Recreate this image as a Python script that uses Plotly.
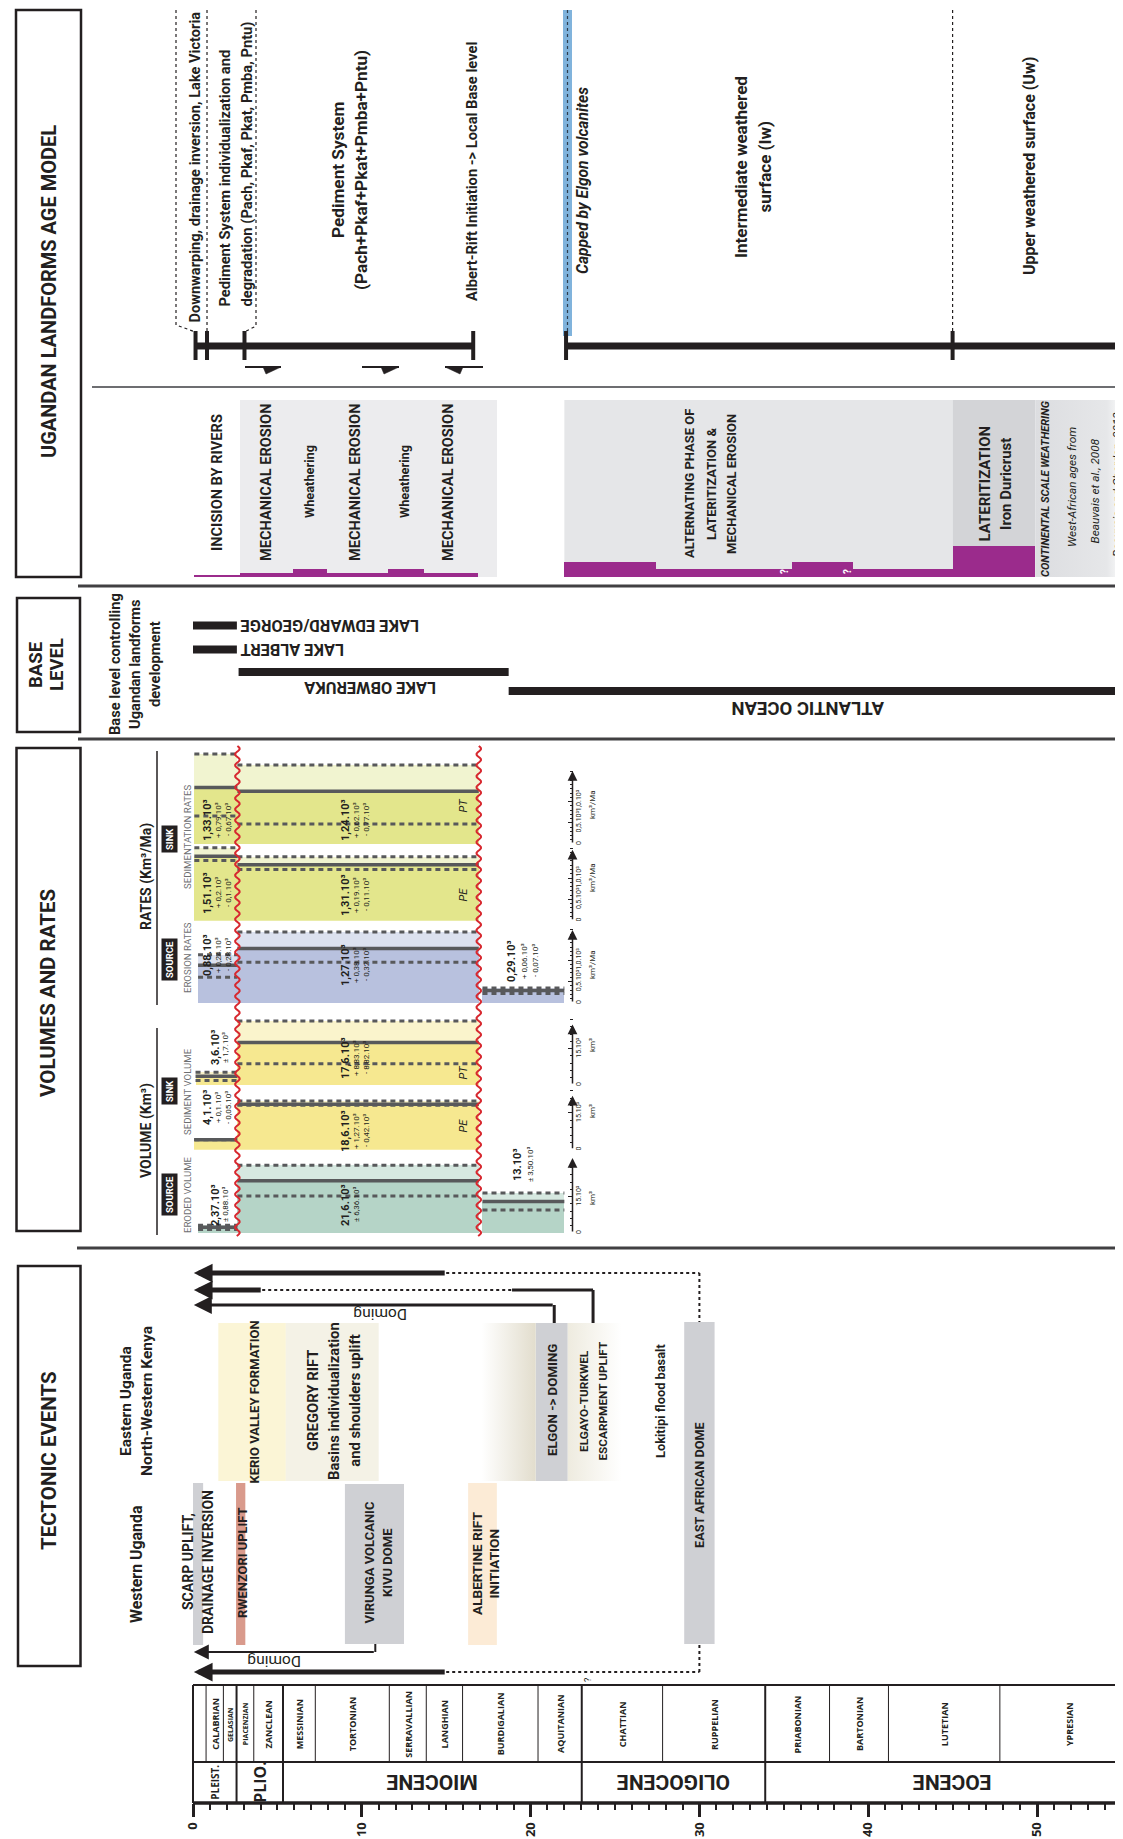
#!/usr/bin/env python3
import numpy as np
import plotly.graph_objects as go

W, H = 1123, 1839
X0, PXMA = 185.0, 16.88          # pixel column of 0 Ma, pixels per Ma
SCALE_PX = 564.5                 # column of the small value scales

COND = "Roboto, Liberation Sans, sans-serif"
WIDE = "Open Sans, DejaVu Sans, sans-serif"
INK = "#231f20"
GREY = "#cfd0d4"
PURPLE = "#9b2b8c"
RED = "#d7282f"
MEAN = "#58595b"

# ---------------- geological time scale (Ma) ----------------
stage_names = ["", "CALABRIAN", "GELASIAN", "PIACENZIAN", "ZANCLEAN", "MESSINIAN", "TORTONIAN",
               "SERRAVALLIAN", "LANGHIAN", "BURDIGALIAN", "AQUITANIAN", "CHATTIAN", "RUPPELIAN",
               "PRIABONIAN", "BARTONIAN", "LUTETIAN", "YPRESIAN"]
stage_bounds = [0, 0.774, 1.80, 2.58, 3.60, 5.333, 7.246, 11.63, 13.82, 15.97, 20.44, 23.03,
                27.82, 33.9, 37.71, 41.2, 47.8, 56.0]
epoch_names = ["PLEIST.", "PLIO.", "MIOCENE", "OLIGOCENE", "EOCENE"]
epoch_bounds = [0, 2.58, 5.333, 23.03, 33.9, 56.0]
age_ticks = [0, 10, 20, 30, 40, 50]

# ---------------- landforms age model ----------------
age_segments_start = [0.15, 22.1]
age_segments_end = [16.6, 55.6]
age_marks = [0.15, 0.83, 3.05, 16.6, 22.1, 45.0]

# ---------------- erosion / weathering processes ----------------
proc_start = [0.06, 2.78, 5.92, 7.94, 11.55, 13.7, 22.0, 27.4, 35.5, 39.1, 45.0]
proc_end = [2.78, 5.92, 7.94, 11.55, 13.7, 16.9, 27.4, 35.5, 39.1, 45.0, 49.9]
proc_level = [0.25, 0.5, 1, 0.5, 1, 0.5, 2, 1, 2, 1, 4]

# ---------------- base levels ----------------
lake_names = ["LAKE EDWARD/GEORGE", "LAKE ALBERT", "LAKE OBWERUKA", "ATLANTIC OCEAN"]
lake_start = [0.0, 0.0, 2.7, 18.7]
lake_end = [2.6, 2.6, 18.7, 55.3]

# ---------------- rates (10^3 km3/Ma) ----------------
rate_pt_start = [0.08, 2.63]
rate_pt_end = [2.63, 16.93]
rate_pt_mean = [1.33, 1.24]
rate_pt_plus = [0.79, 0.62]
rate_pt_minus = [0.67, 0.77]
rate_pt_text = [["1,33.10³", "+ 0,79.10³", "- 0,67.10³"], ["1,24.10³", "+ 0,62.10³", "- 0,77.10³"]]

rate_pe_start = [0.08, 2.63]
rate_pe_end = [2.63, 16.93]
rate_pe_mean = [1.51, 1.31]
rate_pe_plus = [0.2, 0.19]
rate_pe_minus = [0.1, 0.11]
rate_pe_text = [["1,51.10³", "+ 0,2.10³", "- 0,1.10³"], ["1,31.10³", "+ 0,19.10³", "- 0,11.10³"]]

rate_er_start = [0.3, 2.63, 17.15]
rate_er_end = [2.63, 16.93, 22.0]
rate_er_mean = [0.88, 1.27, 0.29]
rate_er_plus = [0.24, 0.38, 0.06]
rate_er_minus = [0.28, 0.32, 0.07]
rate_er_text = [["0,88.10³", "+ 0,24.10³", "- 0,28.10³"], ["1,27.10³", "+ 0,38.10³", "- 0,32.10³"],
                ["0,29.10³", "+ 0,06.10³", "- 0,07.10³"]]

# ---------------- volumes (10^3 km3) ----------------
vol_pt_start = [0.15, 2.63]
vol_pt_end = [2.63, 16.93]
vol_pt_mean = [3.6, 17.6]
vol_pt_plus = [1.7, 8.83]
vol_pt_minus = [1.7, 8.82]
vol_pt_text = [["3,6.10³", "± 1,7.10³"], ["17,6.10³", "+ 8,83.10³", "- 8,82.10³"]]

vol_pe_start = [0.08, 2.63]
vol_pe_end = [2.63, 16.93]
vol_pe_mean = [4.1, 18.6]
vol_pe_plus = [0.1, 1.27]
vol_pe_minus = [0.05, 0.42]
vol_pe_text = [["4,1.10³", "+ 0,1.10³", "- 0,05.10³"], ["18,6.10³", "+ 1,27.10³", "- 0,42.10³"]]

vol_er_start = [0.3, 2.63, 17.15]
vol_er_end = [2.63, 16.93, 22.0]
vol_er_mean = [2.37, 21.6, 13.0]
vol_er_plus = [0.88, 6.36, 3.5]
vol_er_minus = [0.88, 6.36, 3.5]
vol_er_text = [["2,37.10³", "± 0,88.10³"], ["21,6.10³", "± 6,36.10³"], ["13.10³", "± 3,50.10³"]]

rift_limits = [2.63, 16.93]

# ---------------- tectonic events (Ma) ----------------
tect_start = [1.5, 5.5, 20.3, 29.1, 0.0, 2.55, 9.0, 16.3]
tect_end = [5.5, 11.0, 22.2, 30.9, 0.6, 3.1, 12.5, 18.0]
tect_color = ["#fbf5d6", "#f4f2e6", GREY, GREY, GREY, "#d99a8c", GREY, "#fcebd6"]
tect_rows = [(1315, 1473), (1315, 1473), (1315, 1473), (1314, 1636),
             (1475, 1637), (1475, 1637), (1476, 1636), (1475, 1637)]
elgon_fade_left = [17.1, 20.3]
elgon_fade_right = [22.2, 25.4]


fig = go.Figure()


def ma(px):
    return (px - X0) / PXMA


def label(px, py, text, size=14, angle=-90, family=COND, bold=True, italic=False, color=INK, **kw):
    fig.add_annotation(x=ma(px), y=py, xref="x", yref="y", text=text, textangle=angle, showarrow=False,
                       font=dict(family=family, size=size, color=color,
                                 weight="bold" if bold else "normal",
                                 style="italic" if italic else "normal"), **kw)


def lines(pxs, py, texts, size, **kw):
    for px, t in zip(pxs, texts):
        label(px, py, t, size=size, **kw)


def line_ma(a0, y0, a1, y1, width=2, color=INK, dash=None, layer="above"):
    fig.add_shape(type="line", xref="x", yref="y", x0=a0, x1=a1, y0=y0, y1=y1, layer=layer,
                  line=dict(color=color, width=width, dash=dash))


def line_px(px0, y0, px1, y1, **kw):
    line_ma(ma(px0), y0, ma(px1), y1, **kw)


def rect_ma(a0, y0, a1, y1, fill, layer="below"):
    fig.add_shape(type="rect", xref="x", yref="y", x0=a0, x1=a1, y0=y0, y1=y1, layer=layer,
                  fillcolor=fill, line=dict(color=fill, width=0))


def box_px(px0, y0, px1, y1):
    fig.add_shape(type="rect", xref="x", yref="y", x0=ma(px0), x1=ma(px1), y0=y0, y1=y1,
                  line=dict(color=INK, width=2.5), fillcolor="rgba(0,0,0,0)")


def panel_axis(idx, zero_px, top_px, px_per_unit, ticks=None, ticktext=None, minor=None):
    ax = dict(domain=[1 - zero_px / H, 1 - top_px / H], range=[0, (zero_px - top_px) / px_per_unit],
              showgrid=False, zeroline=False, showline=False, fixedrange=True)
    if ticks is None:
        ax.update(visible=False, anchor="x")
    else:
        ax.update(anchor="free", position=SCALE_PX / W, side="right", ticks="inside", ticklen=5,
                  tickwidth=1, tickcolor=INK, tickvals=ticks, ticktext=ticktext, tickangle=-90,
                  tickfont=dict(family=COND, size=7, color=INK),
                  minor=dict(tickmode="array", tickvals=minor, ticks="inside", ticklen=3,
                             tickwidth=0.8, tickcolor=INK))
    fig.update_layout(**{f"yaxis{idx}": ax})


def scale_arrow(idx, top):
    fig.add_annotation(x=ma(SCALE_PX), y=top, ax=ma(SCALE_PX), ay=0, xref="x", yref=f"y{idx}",
                       axref="x", ayref=f"y{idx}", text="", showarrow=True, arrowhead=2,
                       arrowsize=1.3, arrowwidth=1.5, arrowcolor=INK)


def blocks(idx, starts, ends, means, plus, minus, dark, light):
    mids = [(a + b) / 2 for a, b in zip(starts, ends)]
    spans = [b - a for a, b in zip(starts, ends)]
    fig.add_trace(go.Bar(x=mids, y=means, width=spans, base=0, marker=dict(color=dark, line_width=0),
                         xaxis="x", yaxis=f"y{idx}", hoverinfo="skip"))
    fig.add_trace(go.Bar(x=mids, y=plus, width=spans, base=means, marker=dict(color=light, line_width=0),
                         xaxis="x", yaxis=f"y{idx}", hoverinfo="skip"))
    xs, ys, xm, ym = [], [], [], []
    for a, b, m, p, q in zip(starts, ends, means, plus, minus):
        xs += [a, b, None, a, b, None]
        ys += [m + p, m + p, None, m - q, m - q, None]
        xm += [a, b, None]
        ym += [m, m, None]
    fig.add_trace(go.Scatter(x=xs, y=ys, mode="lines", xaxis="x", yaxis=f"y{idx}", hoverinfo="skip",
                             line=dict(color=MEAN, width=3, dash="5px,4px")))
    fig.add_trace(go.Scatter(x=xm, y=ym, mode="lines", xaxis="x", yaxis=f"y{idx}", hoverinfo="skip",
                             line=dict(color=MEAN, width=3.5)))


def block_labels(texts, columns, rows):
    for lns, cols, py in zip(texts, columns, rows):
        for i, (t, px) in enumerate(zip(lns, cols)):
            label(px, py, t, size=11 if i == 0 else 8, bold=(i == 0))


# ============ UGANDAN LANDFORMS AGE MODEL ============
box_px(8, 2, 73, 569)
label(41, 284, "UGANDAN LANDFORMS AGE MODEL", size=20)

# dotted brackets and the Elgon cap
fig.add_shape(type="path", xref="x", yref="y",
              path=f"M {ma(168)},2 L {ma(168)},317 L {age_marks[0]},324",
              line=dict(color=INK, width=1.2, dash="dot"))
fig.add_shape(type="path", xref="x", yref="y",
              path=f"M {ma(248)},2 L {ma(248)},318 L {age_marks[2]},324",
              line=dict(color=INK, width=1.2, dash="dot"))
line_ma(age_marks[1], 2, age_marks[1], 323, width=1.2, dash="dot")
line_ma(age_marks[5], 2, age_marks[5], 323, width=1.2, dash="dot")
rect_ma(ma(555), 2, ma(564), 328, "#80b3dc", layer="above")
line_ma(ma(559.5), 2, ma(559.5), 328, width=1.2, dash="dot", color="#2f3d4d")

for a, b in zip(age_segments_start, age_segments_end):
    line_ma(a, 338, b, 338, width=7)
for a in age_marks:
    line_ma(a, 323, a, 352, width=4)

# kinematic half arrows
for px0, px1, side in [(237, 273, "r"), (354, 391, "r"), (437, 475, "l")]:
    line_px(px0, 359, px1, 359, width=2)
    if side == "r":
        pts = [(px1, 359), (px1 - 18, 359), (px1 - 15, 366)]
    else:
        pts = [(px0, 359), (px0 + 18, 359), (px0 + 15, 366)]
    fig.add_shape(type="path", xref="x", yref="y", fillcolor=INK, line=dict(color=INK, width=0.5),
                  path="M " + " L ".join(f"{ma(x)},{y}" for x, y in pts) + " Z")

label(186.5, 159, "Downwarping, drainage inversion, Lake Victoria", size=14.6)
lines([216, 238], 301, ["Pediment System individualization and",
                        "degradation (Pach, Pkaf, Pkat, Pmba, Pntu)"], 14.7, yanchor="bottom")
lines([330, 353], 162, ["Pediment System", "(Pach+Pkaf+Pkat+Pmba+Pntu)"], 17.2)
label(464, 164, "Albert-Rift Initiation -> Local Base level", size=14.7)
label(575, 173, "Capped by Elgon volcanites", size=15.6, italic=True)
lines([733, 756.5], 159, ["Intermediate weathered", "surface (Iw)"], 17)
label(1021, 158, "Upper weathered surface (Uw)", size=16)

line_px(84, 379, W, 379, width=2, color="#6d6e71")

# process panel
rect_ma(ma(232), 392, ma(489), 569, "#ececee")
rect_ma(22.0, 392, 45.0, 569, "#e5e6e8")
rect_ma(45.0, 392, 49.9, 569, "#d3d4d7")
fig.add_trace(go.Scatter(x=[49.9, 55.2, 55.2, 49.9, 49.9], y=[392, 392, 569, 569, 392], mode="lines",
                         fill="toself", line=dict(width=0), hoverinfo="skip",
                         fillgradient=dict(type="horizontal",
                                           colorscale=[[0, "#dcdde0"], [0.8, "#e6e7e9"], [1, "#ffffff"]])))

panel_axis(8, 569, 392, 7.75)
fig.add_trace(go.Bar(x=[(a + b) / 2 for a, b in zip(proc_start, proc_end)], y=proc_level,
                     width=[b - a for a, b in zip(proc_start, proc_end)], base=0,
                     marker=dict(color=PURPLE, line_width=0), xaxis="x", yaxis="y8", hoverinfo="skip"))

label(209, 475, "INCISION BY RIVERS", size=14.6)
for px in (258, 347, 440):
    label(px, 475, "MECHANICAL EROSION", size=14.6)
for px in (301, 396):
    label(px, 474, "Wheathering", size=12.8)
lines([681, 703, 723], 476, ["ALTERNATING PHASE OF", "LATERITIZATION &amp;", "MECHANICAL EROSION"], 13)
lines([976.5, 998], 476, ["LATERITIZATION", "Iron Duricrust"], 15)
label(1037, 481, "CONTINENTAL SCALE WEATHERING", size=11, italic=True)
label(1064, 479, "West-African ages from", size=11.8, italic=True, bold=False)
label(1086.5, 483, "Beauvais et al., 2008", size=11.8, italic=True, bold=False)
label(1109, 477, "Beauvais and Chardon, 2013", size=11.8, italic=True, bold=False)
for px in (776, 839):
    label(px, 564, "?", size=10, color="white")

line_px(70, 578, W, 578, width=3, color="#414042")

# ============ BASE LEVEL ============
box_px(9, 590, 72, 724)
label(28, 657, "BASE", size=18.5)
label(49, 657, "LEVEL", size=18.5)
lines([107, 127, 147], 656, ["Base level controlling", "Ugandan landforms", "development"], 14.7)

lake_rows = [617.5, 641.5, 664, 683]
for name, a, b, py in zip(lake_names, lake_start, lake_end, lake_rows):
    line_ma(a, py, b, py, width=8)
label(231, 617.5, lake_names[0], size=16.4, angle=180, xanchor="left")
label(231, 641.5, lake_names[1], size=16.4, angle=180, xanchor="left")
label(362, 680, lake_names[2], size=16.4, angle=180)
label(800, 700, lake_names[3], size=18.5, angle=180)

line_px(70, 731, W, 731, width=3, color="#414042")

# ============ VOLUMES AND RATES ============
box_px(8.5, 740, 72.5, 1223)
label(40, 985, "VOLUMES AND RATES", size=20.5)

label(138, 869, "RATES (Km³/Ma)", size=14)
line_px(149, 743, 149, 997, width=1.5)
label(138, 1123, "VOLUME (Km³)", size=14)
line_px(149, 1020, 149, 1227, width=1.5)
for py, t in [(831, "SINK"), (952, "SOURCE"), (1083, "SINK"), (1187, "SOURCE")]:
    label(161, py, t, size=9.5, color="white", bgcolor=INK, borderpad=2)
for py, t in [(829, "SEDIMENTATION RATES"), (950, "EROSION RATES"),
              (1084, "SEDIMENT VOLUME"), (1187, "ERODED VOLUME")]:
    label(179, py, t, size=9.6, bold=False, color="#6d6e71")

# rates panels (2 = PT sedimentation, 3 = PE sedimentation, 4 = erosion)
rate_minor = [round(0.1 * i, 1) for i in range(1, 18) if i not in (5, 10)]
panel_axis(2, 836, 738, 42.5, [0, 0.5, 1.0], ["0", "0,5.10³", "1,0.10³"], rate_minor)
panel_axis(3, 912.7, 836, 42.7, [0, 0.5, 1.0], ["0", "0,5.10³", "1,0.10³"], rate_minor)
panel_axis(4, 995, 915, 43.0, [0, 0.5, 1.0], ["0", "0,5.10³", "1,0.10³"], rate_minor)
vol_minor = [i for i in range(3, 30, 3) if i != 15]
panel_axis(5, 1077, 1005, 2.42, [0, 15], ["0", "15.10³"], vol_minor)
panel_axis(6, 1141.7, 1080, 2.45, [0, 15], ["0", "15.10³"], vol_minor)
panel_axis(7, 1225, 1142, 2.42, [0, 15], ["0", "15.10³"], vol_minor)

blocks(2, rate_pt_start, rate_pt_end, rate_pt_mean, rate_pt_plus, rate_pt_minus, "#e3e68c", "#f1f4d0")
blocks(3, rate_pe_start, rate_pe_end, rate_pe_mean, rate_pe_plus, rate_pe_minus, "#e3e68c", "#f1f4d0")
blocks(4, rate_er_start, rate_er_end, rate_er_mean, rate_er_plus, rate_er_minus, "#b8c1de", "#dce1ef")
blocks(5, vol_pt_start, vol_pt_end, vol_pt_mean, vol_pt_plus, vol_pt_minus, "#f6e890", "#faf4cc")
blocks(6, vol_pe_start, vol_pe_end, vol_pe_mean, vol_pe_plus, vol_pe_minus, "#f6e890", "#faf4cc")
blocks(7, vol_er_start, vol_er_end, vol_er_mean, vol_er_plus, vol_er_minus, "#b5d4c7", "#d6e8e0")

for idx, top in [(2, 1.72), (3, 1.66), (4, 1.7), (5, 25), (6, 22), (7, 31)]:
    scale_arrow(idx, top)
for py, t in [(797, "km³/Ma"), (870, "km³/Ma"), (957, "km³/Ma"), (1037, "km³"), (1103, "km³"), (1190, "km³")]:
    label(584, py, t, size=8, bold=False)

REC3, MAIN3, PRE3 = [199, 210, 220], [337, 348, 358], [503, 516, 527]
block_labels(rate_pt_text, [REC3, MAIN3], [812, 812])
block_labels(rate_pe_text, [REC3, MAIN3], [885, 887])
block_labels(rate_er_text, [REC3, MAIN3, PRE3], [947, 957, 953])
block_labels(vol_pt_text, [[207, 217], MAIN3], [1040, 1050])
block_labels(vol_pe_text, [REC3, MAIN3], [1100, 1123])
block_labels(vol_er_text, [[207, 217], [337, 348], [509, 522]], [1197, 1197, 1157])
for py, t in [(798, "PT"), (887, "PE"), (1065, "PT"), (1118, "PE")]:
    label(454.6, py, t, size=11, bold=False, italic=True)

# red wavy limits of the rift period
for age in rift_limits:
    ys = np.arange(738, 1229, 1.0)
    xs = age + 2.3 * np.sin(2 * np.pi * (ys - 738) / 11.0) / PXMA
    fig.add_shape(type="path", xref="x", yref="y", layer="above",
                  path="M " + " L ".join(f"{x:.4f},{y:.1f}" for x, y in zip(xs, ys)),
                  line=dict(color=RED, width=2))

line_px(69, 1240, W, 1240, width=3, color="#414042")

# ============ TECTONIC EVENTS ============
box_px(10, 1258, 72.5, 1658)
label(41, 1453, "TECTONIC EVENTS", size=20.5)
lines([118, 139], 1393, ["Eastern Uganda", "North-Western Kenya"], 15.5)
label(128, 1557, "Western Uganda", size=15.9)

for a, b, c, (y0, y1) in zip(tect_start, tect_end, tect_color, tect_rows):
    rect_ma(a, y0, b, y1, c)
for (a, b), scale in [(elgon_fade_left, [[0, "#ffffff"], [1, "#e2ddcd"]]),
                      (elgon_fade_right, [[0, "#eeebdf"], [1, "#ffffff"]])]:
    fig.add_trace(go.Scatter(x=[a, b, b, a, a], y=[1315, 1315, 1473, 1473, 1315], mode="lines",
                             fill="toself", line=dict(width=0), hoverinfo="skip",
                             fillgradient=dict(type="horizontal", colorscale=scale)))

label(245.6, 1394, "KERIO VALLEY FORMATION", size=13)
lines([305, 326, 346.7], 1393, ["GREGORY RIFT", "Basins individualization", "and shoulders uplift"], 14.8)
label(544, 1392, "ELGON -> DOMING", size=13.3)
lines([576, 594.6], 1393, ["ELGAYO-TURKWEL", "ESCARPMENT UPLIFT"], 11.8)
label(652, 1393, "Lokitipi flood basalt", size=12.8)
label(691, 1477, "EAST AFRICAN DOME", size=12.7)
lines([180, 200], 1554, ["SCARP UPLIFT,", "DRAINAGE INVERSION"], 14)
label(234, 1555, "RWENZORI UPLIFT", size=12.9)
lines([360.5, 379], 1555, ["VIRUNGA VOLCANIC", "KIVU DOME"], 13)
lines([469, 485.5], 1556, ["ALBERTINE RIFT", "INITIATION"], 13.6)

# doming arrows
HEAD = 0.05
dome_mid = (tect_start[3] + tect_end[3]) / 2


def arrow(a_from, py, width, size):
    fig.add_annotation(x=HEAD, y=py, ax=a_from, ay=py, xref="x", yref="y", axref="x", ayref="y",
                       text="", showarrow=True, arrowhead=2, arrowsize=size, arrowwidth=width,
                       arrowcolor=INK)


arrow(15.0, 1265, 5, 0.75)
line_ma(15.0, 1265, dome_mid, 1265, width=2, dash="dot")
line_ma(dome_mid, 1265, dome_mid, 1314, width=2, dash="dot")

arrow(4.1, 1282, 5, 0.75)
line_ma(4.1, 1282, 18.9, 1282, width=2, dash="dot")
line_ma(18.9, 1282, 23.7, 1282, width=3)
line_ma(23.7, 1282, 23.7, 1315, width=3)

arrow(21.4, 1297, 3, 1.2)
line_ma(21.4, 1297, 21.4, 1315, width=3)
label(372, 1306, "Doming", size=15.5, angle=180, bold=False)

arrow(10.8, 1644, 2, 1.5)
line_ma(10.8, 1636, 10.8, 1644, width=2)
label(266, 1653, "Doming", size=15.5, angle=180, bold=False)

arrow(15.0, 1664, 5, 0.75)
line_ma(15.0, 1664, dome_mid, 1664, width=2, dash="dot")
line_ma(dome_mid, 1664, dome_mid, 1636, width=2, dash="dot")
label(580, 1672, "?", size=9, bold=False)

# ============ TIME SCALE ============
TS_TOP, TS_MID, TS_BOT = 1677, 1754, 1795
line_ma(0, TS_TOP, 56, TS_TOP, width=2)
line_ma(0, TS_MID, 56, TS_MID, width=2)
line_ma(0, TS_BOT, 56, TS_BOT, width=3.5)
for b in stage_bounds[1:-1]:
    if b not in epoch_bounds:
        line_ma(b, TS_TOP, b, TS_MID, width=1)
for b in epoch_bounds[:-1]:
    line_ma(b, TS_TOP, b, TS_BOT, width=2)

for name, a, b in zip(stage_names, stage_bounds[:-1], stage_bounds[1:]):
    if not name:
        continue
    size = 7 if name in ("GELASIAN", "PIACENZIAN") else 9
    fig.add_annotation(x=(a + b) / 2, y=1716, xref="x", yref="y", text=name, textangle=-90,
                       showarrow=False, font=dict(family=WIDE, size=size, color=INK, weight="bold"))
for name, a, b in zip(epoch_names, epoch_bounds[:-1], epoch_bounds[1:]):
    if name == "PLEIST.":
        font, angle = dict(family=WIDE, size=10), -90
    elif name == "PLIO.":
        font, angle = dict(family=WIDE, size=16), -90
    else:
        font, angle = dict(family=COND, size=21), 180
    fig.add_annotation(x=(a + b) / 2, y=1774, xref="x", yref="y", text=name, textangle=angle,
                       showarrow=False, font=dict(color=INK, weight="bold", **font))

fig.update_layout(
    width=W, height=H, margin=dict(l=0, r=0, t=0, b=0),
    paper_bgcolor="white", plot_bgcolor="rgba(0,0,0,0)",
    showlegend=False, barmode="overlay", bargap=0, hovermode=False,
    xaxis=dict(range=[ma(0), ma(W)], domain=[0, 1], anchor="free", position=1 - TS_BOT / H,
               tickmode="array", tickvals=age_ticks, ticktext=[str(t) for t in age_ticks],
               ticks="outside", ticklen=13, tickwidth=2.5, tickcolor=INK, tickangle=-90,
               tickfont=dict(family=WIDE, size=13, color=INK, weight="bold"),
               minor=dict(tickmode="array", tickvals=[i for i in range(1, 56) if i % 10],
                          ticks="outside", ticklen=6, tickwidth=1.5, tickcolor=INK),
               showgrid=False, zeroline=False, showline=False, fixedrange=True),
    yaxis=dict(range=[H, 0], domain=[0, 1], visible=False, fixedrange=True),
)

fig.write_html("out.html")
